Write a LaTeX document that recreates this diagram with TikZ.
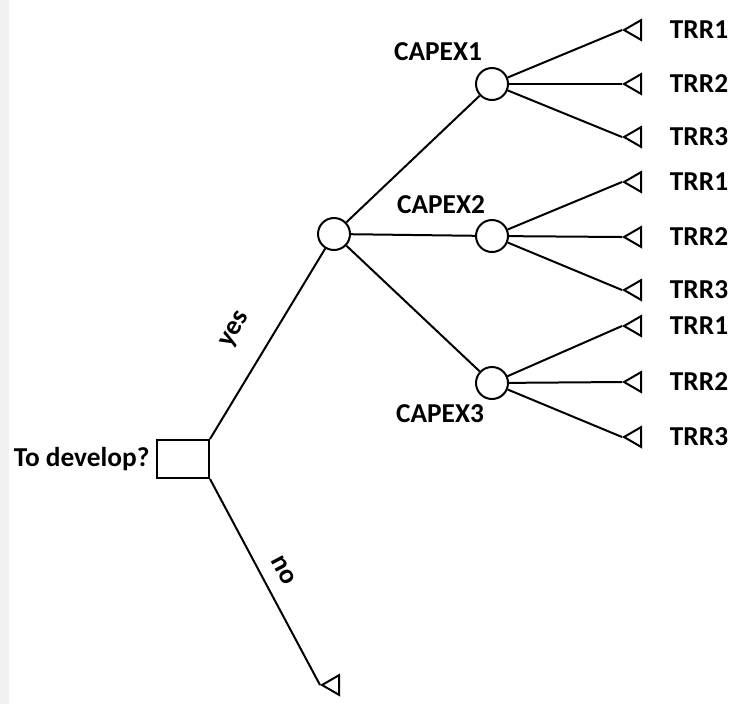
\documentclass[tikz,border=0pt]{standalone}
\usepackage{fontspec}
\setmainfont{Carlito}
\usepackage{tikz}
\usetikzlibrary{positioning,shapes.geometric}

\begin{document}
\begin{tikzpicture}[x=0.75pt,y=0.75pt,yscale=-1,xscale=1,
  every node/.style={font=\fontsize{20.5}{24}\selectfont\bfseries},
  branch/.style={line width=1.5pt},
  decision/.style={draw,line width=1.5pt,minimum width=39pt,minimum height=28.5pt,inner sep=0pt},
  chance/.style={draw,circle,line width=1.5pt,minimum size=24pt,inner sep=0pt},
  leaf/.style={draw,regular polygon,regular polygon sides=3,shape border rotate=90,line width=1.5pt,minimum size=17pt,inner sep=0pt,anchor=corner 1},
  txt/.style={inner sep=0.75pt}]

\useasboundingbox (0,0) rectangle (730,704);
\fill[gray!12] (0,0) rectangle (9,704);

\node[decision] (dec) at (183,459) {};
\node[txt,left=4pt of dec] (devlbl) {To develop?};

\node[chance] (c0) at (334,234) {};
\node[chance] (c1) at (492,84) {};
\node[chance] (c2) at (492,236) {};
\node[chance] (c3) at (492,383) {};

\node[txt] (cap1) at (438,52) {CAPEX1};
\node[txt] (cap2) at (441,205) {CAPEX2};
\node[txt] (cap3) at (440,414) {CAPEX3};

\node[leaf] (no) at (320,685) {};

% end nodes of the three chance nodes
\node[leaf] (t11) at (622,30) {};
\node[leaf] (t12) at (622,84) {};
\node[leaf] (t13) at (622,137) {};
\node[leaf] (t21) at (622,182) {};
\node[leaf] (t22) at (622,237) {};
\node[leaf] (t23) at (622,290) {};
\node[leaf] (t31) at (622,326) {};
\node[leaf] (t32) at (622,382) {};
\node[leaf] (t33) at (622,437) {};

\foreach \i in {1,2,3}{
  \node[txt,right=20pt of t\i1] (r\i1) {TRR1};
  \node[txt,right=20pt of t\i2] (r\i2) {TRR2};
  \node[txt,right=20pt of t\i3] (r\i3) {TRR3};
  \foreach \j in {1,2,3}
    \draw[branch] (c\i) -- (t\i\j.corner 1);
  \draw[branch] (c0) -- (c\i);
}

\draw[branch] (dec.north east) -- (c0);
\draw[branch] (dec.south east) -- (no.corner 1);

\node[txt,rotate=60] (yes) at (236,330) {yes};
\node[txt,rotate=-62] (nolbl) at (283,570) {no};

\end{tikzpicture}
\end{document}
